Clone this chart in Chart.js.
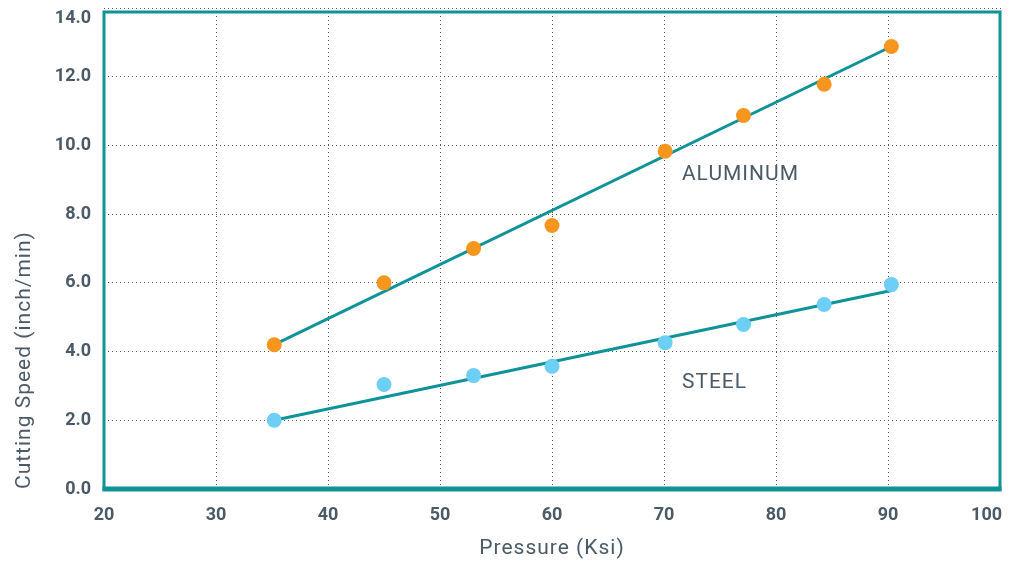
<!DOCTYPE html>
<html>
<head>
<meta charset="utf-8">
<script src="https://cdn.jsdelivr.net/npm/chart.js@4.4.1/dist/chart.umd.min.js"></script>
<style>
  body { margin: 0; background: #fff; }
  #wrap { width: 1013px; height: 561px; }
</style>
</head>
<body>
<div id="wrap"><canvas id="speedChart"></canvas></div>
<script>
// measured points
const pressure = [35.2, 45, 53, 60, 70.1, 77.1, 84.3, 90.3];
const aluminumSpeed = [4.2, 6.0, 7.0, 7.67, 9.83, 10.87, 11.78, 12.88];
const steelSpeed = [2.0, 3.04, 3.3, 3.57, 4.26, 4.79, 5.37, 5.95];

// fitted lines (end points)
const fitPressure = [35.2, 90.3];
const aluminumFit = [4.2, 12.88];
const steelFit = [2.0, 5.78];

const xTicks = [20, 30, 40, 50, 60, 70, 80, 90, 100];
const yTicks = [0, 2, 4, 6, 8, 10, 12, 14];

const TEAL = '#0f9399';
const TEXT = '#4a5a66';

function pairs(xs, ys) {
  return xs.map((x, i) => ({ x: x, y: ys[i] }));
}

// frame round the plot area, thick bottom line
const framePlugin = {
  id: 'frame',
  beforeDraw(chart) {
    // axis titles are spaced out a little
    Object.values(chart.scales).forEach(s => {
      if (s._spaced) return;
      const orig = s.drawTitle.bind(s);
      s.drawTitle = function () {
        const c = this.ctx;
        c.save();
        c.letterSpacing = '1px';
        orig();
        c.restore();
      };
      s._spaced = true;
    });
  },
  beforeDatasetsDraw(chart) {
    const { ctx, chartArea: a } = chart;
    ctx.save();
    ctx.strokeStyle = TEAL;
    ctx.lineWidth = 3;
    ctx.strokeRect(a.left, a.top + 4, a.right - a.left, a.bottom - a.top - 4);
    ctx.lineWidth = 5;
    ctx.beginPath();
    ctx.moveTo(a.left - 1.5, a.bottom);
    ctx.lineTo(a.right + 1.5, a.bottom);
    ctx.stroke();
    ctx.restore();
  }
};

// series names written next to the lines
const seriesLabels = [
  { text: 'ALUMINUM', x: 71.6, y: 9.15 },
  { text: 'STEEL', x: 71.6, y: 3.08 }
];
const labelPlugin = {
  id: 'seriesLabels',
  afterDatasetsDraw(chart) {
    const { ctx, scales } = chart;
    ctx.save();
    ctx.font = '21px Roboto';
    ctx.letterSpacing = '1px';
    ctx.fillStyle = TEXT;
    ctx.textBaseline = 'middle';
    seriesLabels.forEach(l => {
      ctx.fillText(l.text, scales.x.getPixelForValue(l.x), scales.y.getPixelForValue(l.y));
    });
    ctx.restore();
  }
};

new Chart(document.getElementById('speedChart'), {
  type: 'scatter',
  data: {
    datasets: [
      {
        label: 'Aluminum',
        data: pairs(pressure, aluminumSpeed),
        backgroundColor: '#f7961f',
        borderWidth: 0,
        pointRadius: 7.5,
        order: 1
      },
      {
        label: 'Steel',
        data: pairs(pressure, steelSpeed),
        backgroundColor: '#6dcff6',
        borderWidth: 0,
        pointRadius: 7.5,
        order: 1
      },
      {
        label: 'Aluminum fit',
        data: pairs(fitPressure, aluminumFit),
        showLine: true,
        borderColor: TEAL,
        borderWidth: 3,
        pointRadius: 0,
        order: 2
      },
      {
        label: 'Steel fit',
        data: pairs(fitPressure, steelFit),
        showLine: true,
        borderColor: TEAL,
        borderWidth: 3,
        pointRadius: 0,
        order: 2
      }
    ]
  },
  options: {
    responsive: true,
    maintainAspectRatio: false,
    animation: false,
    layout: { padding: { top: 8, right: 13, left: 0, bottom: 0 } },
    plugins: {
      legend: { display: false },
      tooltip: { enabled: false }
    },
    scales: {
      x: {
        type: 'linear',
        min: 20,
        max: 100,
        afterBuildTicks: s => { s.ticks = xTicks.map(v => ({ value: v })); },
        afterFit: s => { s.height = 72; s.paddingLeft = 0; s.paddingRight = 0; },
        border: { display: false, dash: [1, 3] },
        grid: { color: '#555', lineWidth: 1, drawTicks: false },
        ticks: {
          color: TEXT,
          padding: 16,
          font: { family: 'Roboto', size: 18, weight: 'bold' },
          // last label sits inside the page edge
          callback: v => (v === 100 ? v + '      ' : String(v))
        },
        title: {
          display: true,
          text: 'Pressure (Ksi)',
          color: TEXT,
          font: { family: 'Roboto', size: 21 },
          padding: { top: 4, bottom: 0 }
        }
      },
      y: {
        min: 0,
        max: 14,
        afterBuildTicks: s => { s.ticks = yTicks.map(v => ({ value: v })); },
        afterFit: s => { s.width = 104; s.paddingTop = 0; s.paddingBottom = 0; },
        border: { display: false, dash: [1, 3] },
        grid: { color: '#555', lineWidth: 1, drawTicks: false },
        ticks: {
          color: TEXT,
          padding: 13,
          font: { family: 'Roboto', size: 18, weight: 'bold' },
          // top label drops just below the frame
          callback: v => (v === 14 ? ['', v.toFixed(1)] : v.toFixed(1))
        },
        title: {
          display: true,
          text: 'Cutting Speed (inch/min)',
          align: 'start',
          color: TEXT,
          font: { family: 'Roboto', size: 21 },
          padding: { top: 12, bottom: 0 }
        }
      }
    }
  },
  plugins: [framePlugin, labelPlugin]
});
</script>
</body>
</html>
